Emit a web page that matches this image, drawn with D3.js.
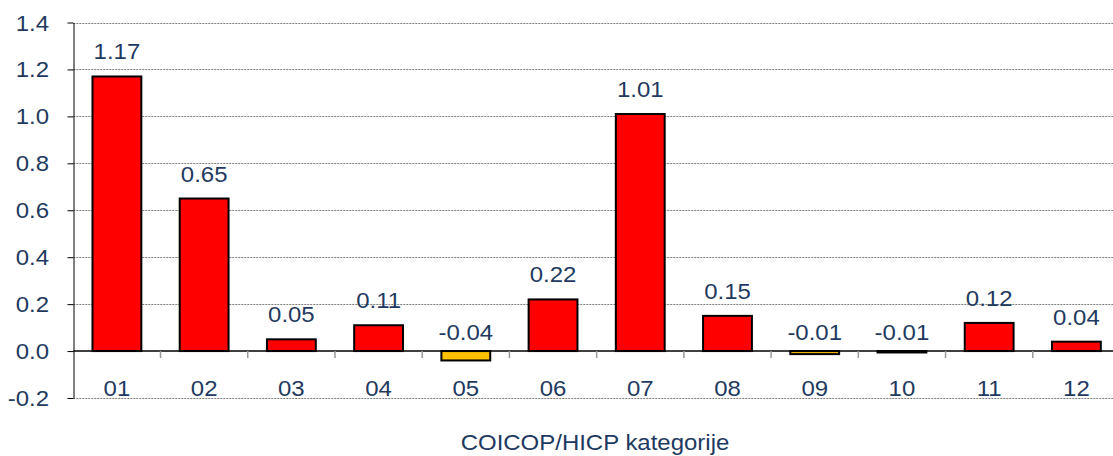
<!DOCTYPE html>
<html>
<head>
<meta charset="utf-8">
<script src="https://cdn.jsdelivr.net/npm/d3@7"></script>
<style>
  body { margin: 0; background: #fff; }
  svg { display: block; font-family: 'Liberation Sans', Arial, sans-serif; }
  .grid line { stroke: #7f7f7f; stroke-width: 1; stroke-dasharray: 2,1; }
  .lbl { fill: #1f3a60; font-size: 22px; }
</style>
</head>
<body>
<div id="chart"></div>
<script>
// COICOP categories and their contributions
let categories = ['01', '02', '03', '04', '05', '06', '07', '08', '09', '10', '11', '12'];
let values = [1.17, 0.65, 0.05, 0.11, -0.04, 0.22, 1.01, 0.15, -0.013, -0.006, 0.12, 0.04];
let yTicks = [-0.2, 0.0, 0.2, 0.4, 0.6, 0.8, 1.0, 1.2, 1.4];
let xTitle = 'COICOP/HICP kategorije';

let width = 1113;
let height = 456;
let COLORS = { pos: '#ff0000', neg: '#ffc000', text: '#1f3a60' };
let stretch = 1.09; // text in the original is a little wider than Arial

let svg = d3.select('#chart').append('svg')
  .attr('width', width)
  .attr('height', height);

let x = d3.scaleBand().domain(categories).range([73.3, 1120]);
let y = d3.scaleLinear().domain([-0.2, 1.4]).range([398, 22.5]);
let fmt = v => d3.format('.2f')(v).replace('−', '-');
let fmt1 = v => d3.format('.1f')(v).replace('−', '-');

function label(g, data, px, py, anchor, txt) {
  return g.selectAll('text')
    .data(data)
    .enter().append('text')
      .attr('class', 'lbl')
      .attr('text-anchor', anchor)
      .attr('transform', (d, i) => 'translate(' + px(d, i) + ',' + py(d, i) + ') scale(' + stretch + ',1)')
      .text(txt);
}

// gridlines
svg.append('g')
  .attr('class', 'grid')
  .selectAll('line')
  .data(yTicks.filter(t => t !== 0))
  .enter().append('line')
    .attr('x1', 73.3)
    .attr('x2', 1120)
    .attr('y1', d => Math.round(y(d)) + 0.5)
    .attr('y2', d => Math.round(y(d)) + 0.5);

// y axis
let yAxis = svg.append('g')
  .attr('transform', 'translate(73.5,0)')
  .call(d3.axisLeft(y).tickValues(yTicks).tickFormat('').tickSize(6).tickSizeOuter(0));
yAxis.select('.domain').attr('stroke', '#000');
yAxis.selectAll('.tick line').attr('stroke', '#000');

label(svg.append('g'), yTicks, () => 49, d => y(d) + 8, 'end', d => fmt1(d));

// bars
let bw = x.bandwidth() * 0.56;
svg.append('g').selectAll('rect')
  .data(values)
  .enter().append('rect')
    .attr('x', (d, i) => x(categories[i]) + (x.bandwidth() - bw) / 2)
    .attr('y', d => y(Math.max(d, 0)))
    .attr('width', bw)
    .attr('height', d => Math.abs(y(d) - y(0)))
    .attr('fill', d => d < 0 ? COLORS.neg : COLORS.pos)
    .attr('stroke', '#000')
    .attr('stroke-width', 2);

// zero line and category ticks
svg.append('line')
  .attr('x1', 73.3).attr('x2', 1120)
  .attr('y1', y(0)).attr('y2', y(0))
  .attr('stroke', '#000').attr('stroke-width', 1.5);

svg.append('g').selectAll('line')
  .data(categories.slice(1))
  .enter().append('line')
    .attr('x1', d => x(d)).attr('x2', d => x(d))
    .attr('y1', y(0)).attr('y2', y(0) + 7)
    .attr('stroke', '#999').attr('stroke-width', 1.5);

// category labels
label(svg.append('g'), categories, d => x(d) + x.bandwidth() / 2, () => 396, 'middle', d => d);

// value labels
label(svg.append('g'), values,
  (d, i) => x(categories[i]) + x.bandwidth() / 2,
  d => d >= 0 ? y(d) - 17 : y(0) - 11,
  'middle', d => fmt(d));

// axis title
label(svg.append('g'), [xTitle], () => 595, () => 450, 'middle', d => d);
</script>
</body>
</html>
